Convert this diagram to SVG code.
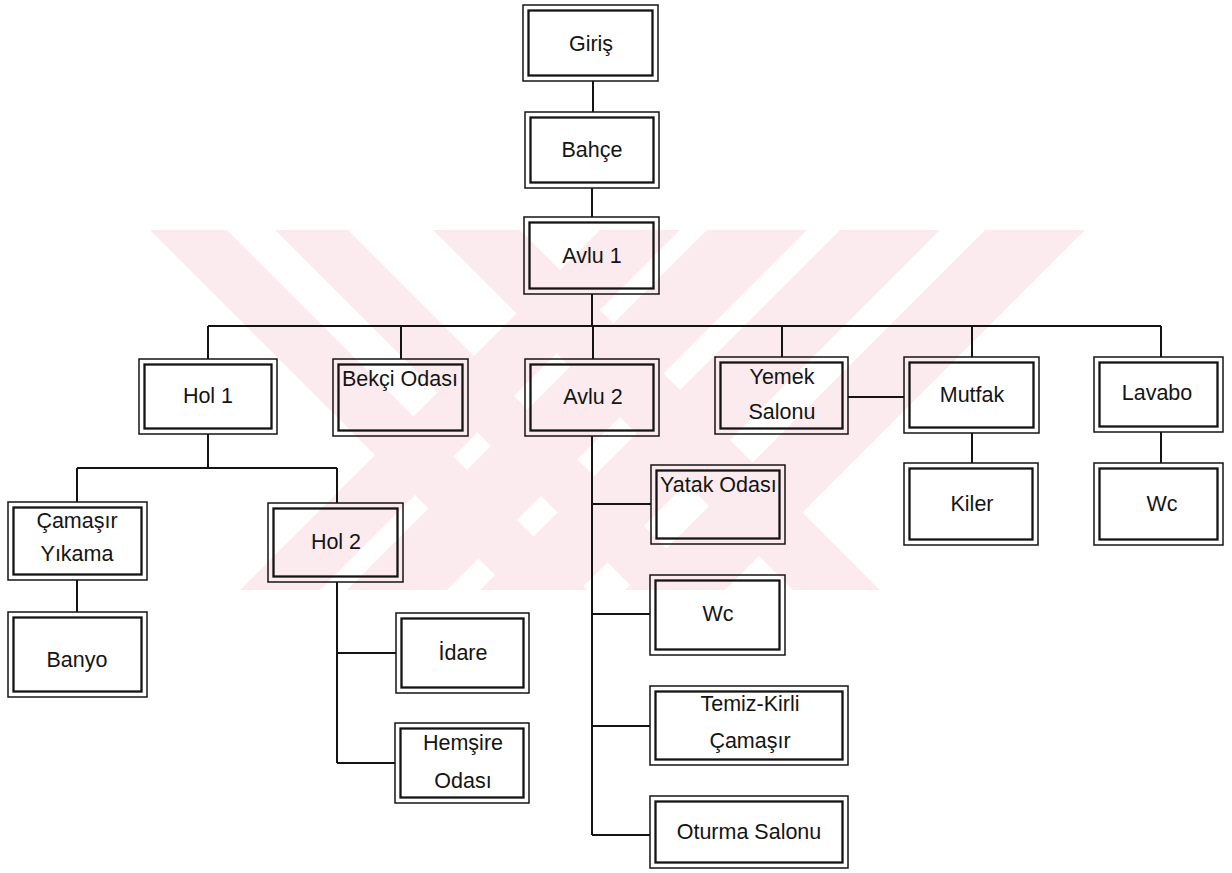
<svg xmlns="http://www.w3.org/2000/svg" width="1232" height="873" viewBox="0 0 1232 873">
<style>
.o{fill:none;stroke:#141414;stroke-width:1.5}
.i{fill:none;stroke:#141414;stroke-width:2.3}
.t{font-family:"Liberation Sans",Arial,sans-serif;font-size:21.5px;fill:#141414;text-anchor:middle}
.tl{font-family:"Liberation Sans",Arial,sans-serif;font-size:21.5px;fill:#141414}
.c{fill:none;stroke:#141414;stroke-width:2}
.wm{fill:#fcebee}
</style>
<defs>
<clipPath id="band"><rect x="0" y="230" width="1232" height="362"/></clipPath>
</defs>
<rect x="0" y="0" width="1232" height="873" fill="#ffffff"/>
<g id="watermark" clip-path="url(#band)">
<polygon class="wm" points="150,230 227,230 587,590 510,590"/>
<polygon class="wm" points="275,230 348,230 708,590 635,590"/>
<polygon class="wm" points="433,230 520,230 880,590 793,590"/>
<polygon class="wm" points="985,230 1085,230 725,590 625,590"/>
<polygon class="wm" points="840,230 940,230 580,590 480,590"/>
<polygon class="wm" points="707,230 807,230 447,590 347,590"/>
<polygon class="wm" points="600,230 680,230 320,590 240,590"/>
</g>
<g id="connectors">
<path class="c" d="M593,81V112M592,188V217M592,294V326M208,326H1161M208,326V359M401,326V359M593,326V359M782,326V357M972,326V357M1161,326V357"/>
<path class="c" d="M848,397H904M972,433V463M1161,432V463"/>
<path class="c" d="M208,434V468M77,468H337M77,468V502M337,468V503M77,580V612"/>
<path class="c" d="M337,582V763M337,653H396M337,763H395"/>
<path class="c" d="M592,436V835M592,504H651M592,614H650M592,726H650M592,835H650"/>
</g>
<g id="n-giris"><rect class="o" x="523" y="5" width="135" height="76"/><rect class="i" x="528.5" y="10.5" width="124" height="65"/><text class="t" x="591" y="51">Giriş</text></g>
<g id="n-bahce"><rect class="o" x="525" y="112" width="134" height="76"/><rect class="i" x="530.5" y="117.5" width="123" height="65"/><text class="t" x="592" y="157">Bahçe</text></g>
<g id="n-avlu1"><rect class="o" x="524" y="217" width="135" height="77"/><rect class="i" x="529.5" y="222.5" width="124" height="66"/><text class="t" x="592" y="263">Avlu 1</text></g>
<g id="n-hol1"><rect class="o" x="139" y="359" width="138" height="75"/><rect class="i" x="144.5" y="364.5" width="127" height="64"/><text class="t" x="208" y="403">Hol 1</text></g>
<g id="n-bekci"><rect class="o" x="333" y="359" width="135" height="77"/><rect class="i" x="338.5" y="364.5" width="124" height="66"/><text class="tl" x="342" y="386">Bekçi Odası</text></g>
<g id="n-avlu2"><rect class="o" x="525" y="359" width="134" height="77"/><rect class="i" x="530.5" y="364.5" width="123" height="66"/><text class="t" x="593" y="404">Avlu 2</text></g>
<g id="n-yemek"><rect class="o" x="715" y="357" width="133" height="77"/><rect class="i" x="720.5" y="362.5" width="122" height="66"/><text class="t" x="782" y="384">Yemek</text><text class="t" x="782" y="419">Salonu</text></g>
<g id="n-mutfak"><rect class="o" x="904" y="357" width="135" height="76"/><rect class="i" x="909.5" y="362.5" width="124" height="65"/><text class="t" x="972" y="402">Mutfak</text></g>
<g id="n-lavabo"><rect class="o" x="1094" y="357" width="129" height="75"/><rect class="i" x="1099.5" y="362.5" width="118" height="64"/><text class="t" x="1157" y="400">Lavabo</text></g>
<g id="n-kiler"><rect class="o" x="904" y="463" width="134" height="82"/><rect class="i" x="909.5" y="468.5" width="123" height="71"/><text class="t" x="972" y="511">Kiler</text></g>
<g id="n-wc1"><rect class="o" x="1094" y="463" width="129" height="82"/><rect class="i" x="1099.5" y="468.5" width="118" height="71"/><text class="t" x="1162" y="511">Wc</text></g>
<g id="n-camasir"><rect class="o" x="8" y="502" width="139" height="78"/><rect class="i" x="13.5" y="507.5" width="128" height="67"/><text class="t" x="77" y="528">Çamaşır</text><text class="t" x="77" y="561">Yıkama</text></g>
<g id="n-banyo"><rect class="o" x="8" y="612" width="139" height="85"/><rect class="i" x="13.5" y="617.5" width="128" height="74"/><text class="t" x="77" y="667">Banyo</text></g>
<g id="n-hol2"><rect class="o" x="268" y="503" width="135" height="79"/><rect class="i" x="273.5" y="508.5" width="124" height="68"/><text class="t" x="336" y="549">Hol 2</text></g>
<g id="n-idare"><rect class="o" x="396" y="613" width="133" height="80"/><rect class="i" x="401.5" y="618.5" width="122" height="69"/><text class="t" x="463" y="660">İdare</text></g>
<g id="n-hemsire"><rect class="o" x="395" y="723" width="134" height="80"/><rect class="i" x="400.5" y="728.5" width="123" height="69"/><text class="t" x="463" y="750">Hemşire</text><text class="t" x="463" y="788">Odası</text></g>
<g id="n-yatak"><rect class="o" x="651" y="465" width="134" height="79"/><rect class="i" x="656.5" y="470.5" width="123" height="68"/><text class="tl" x="660" y="492">Yatak Odası</text></g>
<g id="n-wc2"><rect class="o" x="650" y="575" width="135" height="80"/><rect class="i" x="655.5" y="580.5" width="124" height="69"/><text class="t" x="718" y="621">Wc</text></g>
<g id="n-temiz"><rect class="o" x="650" y="686" width="198" height="79"/><rect class="i" x="655.5" y="691.5" width="187" height="68"/><text class="t" x="750" y="711">Temiz-Kirli</text><text class="t" x="750" y="748">Çamaşır</text></g>
<g id="n-oturma"><rect class="o" x="650" y="796" width="198" height="72"/><rect class="i" x="655.5" y="801.5" width="187" height="61"/><text class="t" x="749" y="839">Oturma Salonu</text></g>
</svg>
